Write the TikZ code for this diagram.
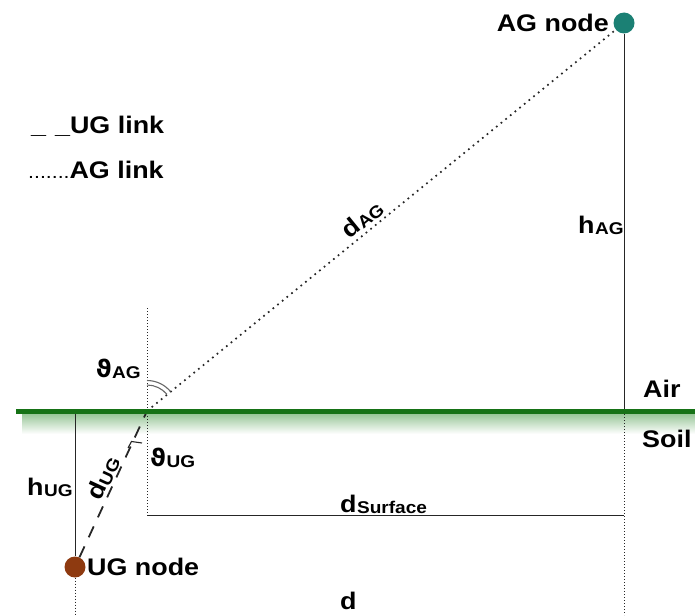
\documentclass[tikz,border=0pt]{standalone}
\usepackage{fontspec}
\setmainfont{Liberation Sans}[FakeStretch=1.12]
\newfontfamily\greekfont{DejaVu Sans}
\definecolor{agteal}{HTML}{1B8074}
\definecolor{ugbrown}{HTML}{8E3A10}
\definecolor{ground}{HTML}{167216}
\definecolor{glow}{HTML}{94C494}
\definecolor{ink}{HTML}{262626}
\newcommand{\bigsz}{\fontsize{24}{28}\selectfont}
\newcommand{\subsz}{\fontsize{17}{20}\selectfont}
\newcommand{\sym}[2]{{\bigsz #1}\kern0.5pt{\subsz\raisebox{-1.5pt}{#2}}}
\newcommand{\thsym}{{\greekfont ϑ}}
\tikzset{
  lbl/.style={inner sep=0pt, font=\bfseries\bigsz, text=black},
  thinline/.style={draw=ink, line width=0.9pt},
  finedots/.style={draw=ink, line width=0.9pt, dash pattern=on 1pt off 2pt},
  aglink/.style={draw=ink, line width=1.7pt, dash pattern=on 1.7pt off 4.3pt},
  uglink/.style={draw=ink, line width=1.8pt, dash pattern=on 12pt off 10pt},
  anglemark/.style={draw=black!60, line width=1.1pt},
  endpoint/.style={circle, inner sep=0pt, minimum size=21pt},
}
\begin{document}
\begin{tikzpicture}[x=1pt,y=1pt]
\useasboundingbox (0,0) rectangle (695,-615);

% key points
\coordinate (p) at (147,-411);
\coordinate (ptop) at (147,-308);
\coordinate (pbot) at (147,-515);
\coordinate (agfoot) at (624,-411);
\coordinate (agbot) at (624,-515);
\coordinate (agend) at (624,-615);
\coordinate (ugtop) at (75,-411);
\coordinate (ugend) at (75,-615);

% soft shadow under the surface line
\shade[top color=glow, bottom color=white] (22,-413) rectangle (695,-434);

% end nodes
\node[endpoint, fill=agteal] (ag) at (624,-23) {};
\node[endpoint, fill=ugbrown] (ug) at (75,-567) {};

% construction lines
\draw[thinline] (ag) -- (agfoot);
\draw[finedots] (agfoot) -- (agend);
\draw[thinline] (ugtop) -- (ug);
\draw[finedots] (ug) -- (ugend);
\draw[finedots] (ptop) -- (pbot);
\draw[thinline] (pbot) -- (agbot);

% links
\draw[aglink] (p) -- (ag);
\draw[uglink] (ug) -- (p);

% angle marks
\draw[anglemark] ([shift={(90:26)}]p) arc (90:40:26);
\draw[anglemark] ([shift={(90:30.5)}]p) arc (90:40:30.5);
\draw[anglemark, draw=ink] (128,-448) -- (131.5,-441.5) -- (142,-443);

% air / soil boundary
\draw[ground, line width=5pt] (16,-411.5) -- (695,-411.5);

% labels
\node[lbl, anchor=base east] (aglabel) at (609,-32) {AG node};
\node[lbl, anchor=base west] (uglabel) at (87,-575) {UG node};
\node[lbl, anchor=base west] (leg1) at (31,-133) {\_\hspace{9pt}\_UG link};
\node[lbl, anchor=base west] (leg2) at (28,-178) {{\mdseries\fontsize{19}{22}\selectfont.......}AG link};
\node[lbl, anchor=base west] (air) at (643,-397) {Air};
\node[lbl, anchor=base west] (soil) at (642,-447) {Soil};
\node[lbl, anchor=base west] (hag) at (578,-233) {\sym{h}{AG}};
\node[lbl, anchor=base west] (hug) at (27,-495) {\sym{h}{UG}};
\node[lbl, anchor=base east] (thag) at (141,-377) {\sym{\thsym}{AG}};
\node[lbl, anchor=base west] (thug) at (150,-466) {\sym{\thsym}{UG}};
\node[lbl, anchor=base west] (dsurf) at (340,-512) {\sym{d}{Surface}};
\node[lbl, anchor=base west] (dtot) at (340,-609) {d};
\node[lbl, rotate=39.1] (dag) at (362,-219) {\sym{d}{AG}};
\node[lbl, rotate=65.2] (dug) at (103,-478) {\sym{d}{UG}};
\end{tikzpicture}
\end{document}
